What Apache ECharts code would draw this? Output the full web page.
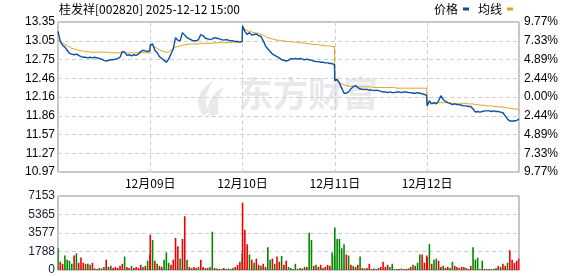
<!DOCTYPE html>
<html><head><meta charset="utf-8">
<script src="https://cdn.jsdelivr.net/npm/echarts@6/dist/echarts.min.js"></script>
<style>html,body{margin:0;padding:0;background:#fff}#c{width:578px;height:276px}</style>
</head><body><div id="c"></div>
<script>
const titleText = '桂发祥[002820] 2025-12-12 15:00';
const prevClose = 12.16;
const dayLabels = ['12月08日', '12月09日', '12月10日', '12月11日', '12月12日'];
const priceTicks = ['10.97', '11.27', '11.57', '11.86', '12.16', '12.46', '12.75', '13.05', '13.35'];
const pctTicks = ['9.77%', '7.33%', '4.89%', '2.44%', '0.00%', '2.44%', '4.89%', '7.33%', '9.77%'];
const volTicks = ['0', '1788', '3577', '5365', '7153'];
const minutesPerDay = 241;
const sampleStep = 6;

const price1 = [13.20,13.04,12.98,12.95,12.90,12.85,12.84,12.83,12.84,12.82,12.80,12.79,12.79,12.78,12.79,12.78,12.79,12.78,12.77,12.76,12.74,12.73,12.74,12.75,12.75,12.76,12.77,12.79,12.88,12.87,12.82,12.83,12.81,12.83,12.82,12.84,12.88,12.90,12.89,12.88,12.90];
const price2 = [12.98,13.00,12.90,12.86,12.80,12.77,12.74,12.71,12.76,12.84,12.92,13.10,13.06,13.05,13.18,13.14,13.10,13.08,13.06,13.05,13.05,13.07,13.15,13.13,13.09,13.08,13.07,13.08,13.10,13.09,13.08,13.07,13.06,13.07,13.06,13.05,13.05,13.04,13.04,13.03,13.04];
const price3 = [13.29,13.20,13.15,13.18,13.14,13.15,13.16,13.13,13.12,13.05,12.97,12.92,12.88,12.84,12.82,12.80,12.78,12.75,12.74,12.73,12.74,12.77,12.76,12.77,12.76,12.77,12.76,12.75,12.76,12.75,12.74,12.73,12.72,12.72,12.71,12.71,12.70,12.70,12.69,12.69,12.67];
const price4 = [12.42,12.44,12.38,12.30,12.22,12.22,12.24,12.29,12.32,12.34,12.31,12.29,12.28,12.28,12.28,12.27,12.27,12.26,12.27,12.26,12.25,12.24,12.24,12.23,12.24,12.23,12.23,12.24,12.24,12.23,12.24,12.24,12.23,12.23,12.22,12.22,12.23,12.22,12.21,12.20,12.18];
const price5 = [12.02,12.10,12.05,12.07,12.05,12.10,12.18,12.12,12.09,12.07,12.06,12.04,12.05,12.04,12.04,12.03,12.02,12.02,12.01,12.01,11.97,11.92,11.93,11.92,11.93,11.94,11.94,11.94,11.93,11.94,11.93,11.93,11.92,11.91,11.86,11.81,11.78,11.78,11.78,11.79,11.81];

const avg1 = [13.06,13.04,13.01,12.99,12.97,12.95,12.93,12.92,12.91,12.90,12.89,12.89,12.88,12.88,12.87,12.87,12.87,12.87,12.87,12.87,12.87,12.87,12.87,12.86,12.86,12.86,12.86,12.86,12.86,12.86,12.86,12.86,12.86,12.86,12.86,12.86,12.86,12.86,12.86,12.86,12.86];
const avg2 = [12.98,12.97,12.95,12.93,12.91,12.89,12.88,12.87,12.87,12.90,12.93,12.95,12.96,12.97,12.98,12.99,12.99,13.00,13.00,13.00,13.00,13.00,13.01,13.01,13.01,13.01,13.01,13.01,13.02,13.02,13.02,13.02,13.02,13.02,13.02,13.02,13.03,13.03,13.03,13.03,13.03];
const avg3 = [13.25,13.23,13.21,13.20,13.19,13.18,13.17,13.17,13.15,13.14,13.12,13.10,13.09,13.08,13.07,13.06,13.06,13.05,13.05,13.04,13.04,13.04,13.03,13.03,13.03,13.02,13.02,13.01,13.01,13.00,13.00,12.99,12.99,12.99,12.98,12.98,12.97,12.97,12.97,12.96,12.96];
const avg4 = [12.44,12.42,12.39,12.37,12.35,12.34,12.33,12.33,12.33,12.32,12.32,12.32,12.32,12.32,12.32,12.32,12.32,12.31,12.31,12.31,12.31,12.31,12.31,12.31,12.31,12.31,12.31,12.30,12.30,12.30,12.30,12.30,12.30,12.30,12.30,12.30,12.30,12.30,12.30,12.30,12.30];
const avg5 = [12.04,12.05,12.06,12.07,12.07,12.07,12.07,12.07,12.07,12.07,12.06,12.06,12.06,12.06,12.06,12.06,12.06,12.06,12.05,12.05,12.05,12.04,12.04,12.03,12.03,12.03,12.02,12.02,12.02,12.01,12.01,12.00,12.00,12.00,11.99,11.99,11.98,11.98,11.97,11.97,11.96];

const vol1 = [2100,800,600,1400,1000,900,600,1400,1600,700,1200,700,600,600,500,700,150,100,200,150,300,1000,300,400,200,300,200,400,600,1300,300,200,400,200,300,200,500,300,400,900,1500];
const vol2 = [3400,2900,900,600,400,300,1000,1700,700,500,1000,3100,2300,1100,3000,5200,1000,300,200,300,200,300,1000,300,200,200,300,3700,200,150,100,100,200,100,150,100,200,300,500,800,1600];
const vol3 = [6500,3900,2500,1500,1000,700,1100,500,400,600,300,2200,1000,1100,600,1300,800,1350,500,900,300,200,100,600,100,200,150,300,300,3600,2900,400,500,300,500,200,300,500,400,1700,1400];
const vol4 = [4100,3000,3000,2100,2500,1500,1400,500,400,300,500,1300,200,150,200,600,100,150,100,200,300,800,300,500,300,600,100,100,100,150,100,100,150,300,500,400,700,1500,1500,700,1400];
const vol5 = [1200,2500,600,1000,1100,900,300,400,200,300,200,800,400,300,200,300,300,200,100,400,2200,1000,1200,100,900,100,100,100,100,100,200,400,300,600,400,700,1900,1000,700,900,1100];
const dir1 = 'grrggggrgrrrgrgrrgrggrrgrrrrrgrrgrrrrgrg';
const dir2 = 'rgrgrrgggrrrrgrrgrgrrgrrgrggrgrgrggrgrrrg';
const dir3 = 'rrrgrgrrgrrggrgrrgrrggrgrgrgrggrgrrgrrrgg';
const dir4 = 'gggggrgrgrrgrgrrgrgrrrrrggrgrgrgrrgrggrrr';
const dir5 = 'rgrggrrgrrggrrgrrgrrgggrgrgrgggrgrrgrrrr';

const toPct = p => (p / prevClose - 1) * 100;
const priceDays = [price1, price2, price3, price4, price5];
const avgDays = [avg1, avg2, avg3, avg4, avg5];
const volDays = [vol1, vol2, vol3, vol4, vol5];
const dirDays = [dir1, dir2, dir3, dir4, dir5];
const pricePts = [], avgPts = [], volPts = [];
priceDays.forEach((arr, d) => arr.forEach((p, i) => pricePts.push([d * minutesPerDay + i * sampleStep, toPct(p)])));
avgDays.forEach((arr, d) => arr.forEach((p, i) => avgPts.push([d * minutesPerDay + i * sampleStep, toPct(p)])));
volDays.forEach((arr, d) => arr.forEach((v, i) => {
  const up = (dirDays[d][i] || 'r') === 'r';
  volPts.push({ value: [d * minutesPerDay + i * sampleStep, v], itemStyle: { color: up ? '#ee0000' : '#008800' } });
}));

const PMAX = 9.77, PINT = PMAX / 4;
const tickIdx = v => Math.round((v + PMAX) / PINT);
const sideColor = v => { const k = tickIdx(v); return k > 4 ? '#ff0000' : (k < 4 ? '#008a00' : '#000000'); };
const dashed = { show: true, lineStyle: { color: '#cfcfcf', type: [4, 3], width: 1 } };
const numFont = 'Liberation Sans, Arial, sans-serif';
const cjkFont = 'Noto Sans CJK SC, sans-serif';
const totalMin = minutesPerDay * 5 - 1;

const chart = echarts.init(document.getElementById('c'), null, { renderer: 'canvas' });
chart.setOption({
  animation: false,
  backgroundColor: '#ffffff',
  title: { text: titleText, left: 59, top: 2, padding: 0, textStyle: { fontSize: 12, fontWeight: 'normal', color: '#000', fontFamily: cjkFont, lineHeight: 15 } },
  legend: {
    right: 65, top: 3, padding: 0, itemGap: 9, align: 'right', icon: 'rect', itemWidth: 6, itemHeight: 3,
    textStyle: { fontSize: 12, color: '#000', fontFamily: cjkFont },
    data: [{ name: '价格' }, { name: '均线' }]
  },
  graphic: [
    { type: 'text', left: 238, top: 76, z: 0, silent: true,
      style: { text: '东方财富', fontSize: 35, fontWeight: 'bold', fontFamily: cjkFont, fill: '#e9e9ed' } },
    { type: 'polygon', z: 0, silent: true,
      shape: { points: [[203,116],[199,108],[198,100],[201,92],[207,85],[214,80],[209,88],[206,96],[206,104],[209,112]] },
      style: { fill: '#e9e9ed' } },
    { type: 'polygon', z: 0, silent: true,
      shape: { points: [[209,116],[208,108],[210,100],[215,93],[224,86],[220,94],[218,101],[218,108],[219,114]] },
      style: { fill: '#e9e9ed' } }
  ],
  grid: [
    { left: 58, right: 59, top: 22, height: 150, show: true, borderColor: '#8c8c8c', borderWidth: 1, backgroundColor: 'transparent' },
    { left: 58, right: 59, top: 196, height: 74, show: true, borderColor: '#8c8c8c', borderWidth: 1, backgroundColor: 'transparent' }
  ],
  xAxis: [
    { type: 'value', gridIndex: 0, min: 0, max: totalMin, interval: minutesPerDay,
      axisLine: { show: false }, axisTick: { show: false }, splitLine: dashed,
      axisLabel: { margin: 5, fontSize: 12, color: '#000', fontFamily: cjkFont, showMinLabel: false, showMaxLabel: false,
        formatter: v => { const k = Math.round(v / minutesPerDay); return (k >= 1 && k <= 4) ? dayLabels[k] : ''; } } },
    { type: 'value', gridIndex: 1, min: 0, max: totalMin, interval: minutesPerDay,
      axisLine: { show: false }, axisTick: { show: false }, splitLine: { show: false }, axisLabel: { show: false } }
  ],
  yAxis: [
    { type: 'value', gridIndex: 0, position: 'left', min: -PMAX, max: PMAX, interval: PINT,
      axisLine: { show: false }, axisTick: { show: false }, splitLine: dashed,
      axisLabel: { margin: 3, fontSize: 12, fontFamily: numFont, formatter: v => priceTicks[tickIdx(v)], color: v => sideColor(v) } },
    { type: 'value', gridIndex: 0, position: 'right', min: -PMAX, max: PMAX, interval: PINT,
      axisLine: { show: false }, axisTick: { show: false }, splitLine: { show: false },
      axisLabel: { margin: 5, fontSize: 12, fontFamily: numFont, formatter: v => pctTicks[8 - tickIdx(v)], color: v => sideColor(v) } },
    { type: 'value', gridIndex: 1, position: 'left', min: 0, max: 7153, interval: 7153 / 4,
      axisLine: { show: false }, axisTick: { show: false }, splitLine: dashed,
      axisLabel: { margin: 3, fontSize: 12, fontFamily: numFont, color: '#1a1a2e', formatter: v => volTicks[Math.round(v / (7153 / 4))] } }
  ],
  series: [
    { name: '价格', type: 'line', xAxisIndex: 0, yAxisIndex: 0, data: pricePts, showSymbol: false, z: 4,
      lineStyle: { color: '#0c4fa3', width: 1.4 }, itemStyle: { color: '#0c4fa3' } },
    { name: '均线', type: 'line', xAxisIndex: 0, yAxisIndex: 0, data: avgPts, showSymbol: false, z: 3,
      lineStyle: { color: '#e0a21c', width: 1 }, itemStyle: { color: '#e0a21c' } },
    { name: '成交量', type: 'bar', xAxisIndex: 1, yAxisIndex: 2, data: volPts, barWidth: 1.6, z: 3 }
  ]
});
</script></body></html>
